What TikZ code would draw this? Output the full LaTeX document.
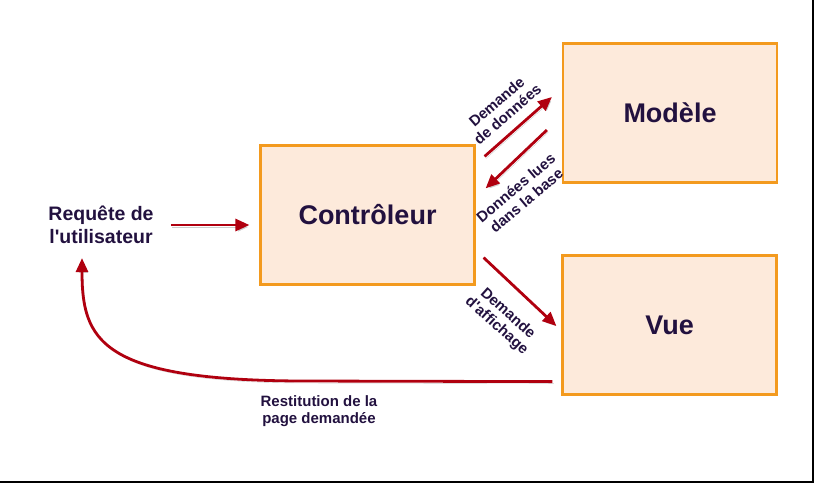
\documentclass[tikz,border=0pt]{standalone}
\usepackage{fontspec}
\setmainfont{Liberation Sans}
\usetikzlibrary{calc,arrows.meta}
\definecolor{boxfill}{HTML}{FDEADB}
\definecolor{boxline}{HTML}{F39A1E}
\definecolor{arrowred}{HTML}{B0000F}
\definecolor{labeltext}{HTML}{22113F}

\begin{document}
\begin{tikzpicture}[x=1pt,y=-1pt,
    block/.style={draw=boxline, line width=2.2pt, fill=boxfill,
        minimum width=214pt, minimum height=139pt, text=labeltext,
        font=\fontsize{27}{32}\selectfont\bfseries},
    lbl/.style={text=labeltext, align=center, inner sep=0pt,
        font=\fontsize{15}{16.5}\selectfont\bfseries},
    flow/.style={draw=arrowred, line width=2.8pt,
        -{Triangle[length=14pt,width=12pt]},
        preaction={draw=black!20, transform canvas={shift={(1.5pt,-2pt)}}}}]
    \useasboundingbox (0,0) rectangle (816,483);
    \draw[line width=1.5pt] (813,0) -- (813,482) -- (0,482);

    % the three parts
    \node[block] (ctrl) at (367.5,215) {Contrôleur};
    \node[block] (modele) at (670,113) {Modèle};
    \node[block] (vue) at (669.5,325) {Vue};

    \node[lbl, font=\fontsize{19.5}{23}\selectfont\bfseries] (req) at (101,225)
        {Requête de\\l\textquotesingle utilisateur};
    \node[lbl] (rest) at (319,411) {Restitution de la\\page demandée};

    % requests and answers
    \draw[flow, shorten <=17pt, shorten >=10pt] (req.east) -- (req.east -| ctrl.west);
    \draw[flow] ($(ctrl.north east)+(9,12)$) -- ($(modele.west)+(-10,-16)$);
    \draw[flow] ($(modele.west)+(-15,17)$) -- ($(ctrl.north east)+(10,44)$);
    \draw[flow] ($(ctrl.south east)+(8,-28)$) -- ($(vue.west)+(-5,1)$);
    \draw[flow] ($(vue.south west)+(-9,-14)$) -- (300,381)
        .. controls (100,380) and (82,340) .. ($(req.south)+(-19,14)$);

    \node[lbl, rotate=41] (dem) at (502,108) {Demande\\de données};
    \node[lbl, rotate=40] (lues) at (521,194) {Données lues\\dans la base};
    \node[lbl, rotate=-42] (aff) at (502,320) {Demande\\d\textquotesingle affichage};
\end{tikzpicture}
\end{document}
